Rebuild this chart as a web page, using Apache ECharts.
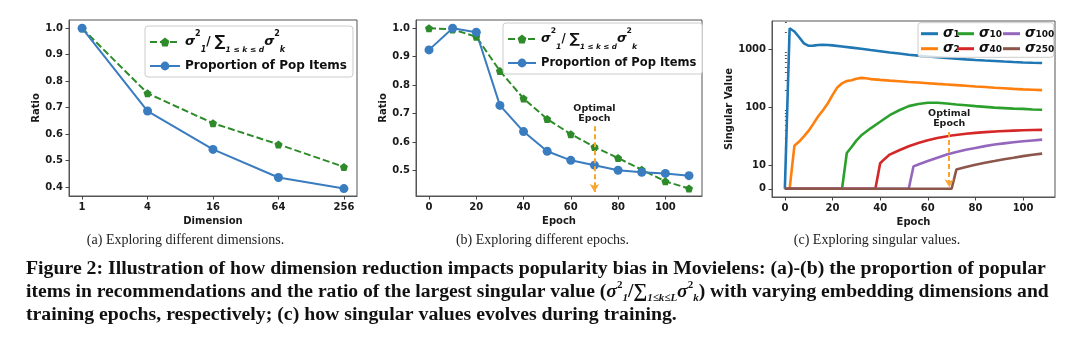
<!DOCTYPE html>
<html><head><meta charset="utf-8">
<script src="https://cdn.jsdelivr.net/npm/echarts@6/dist/echarts.min.js"></script>
<style>html,body{margin:0;padding:0;background:#fff}#c{width:1080px;height:344px}</style>
</head><body><div id="c"></div>
<script>
// ---------- (a) Exploring different dimensions ----------
const dimCategories = [1, 4, 16, 64, 256];
const dimSigmaRatio = [1.0, 0.754, 0.641, 0.561, 0.476];
const dimPopProportion = [1.0, 0.687, 0.542, 0.436, 0.394];
const ratioTicksA = [0.4, 0.5, 0.6, 0.7, 0.8, 0.9, 1.0];

// ---------- (b) Exploring different epochs ----------
const epochsB = [0, 10, 20, 30, 40, 50, 60, 70, 80, 90, 100, 110];
const epochSigmaRatio = [1.0, 0.996, 0.970, 0.850, 0.753, 0.681, 0.628, 0.583, 0.544, 0.503, 0.462, 0.437];
const epochPopProportion = [0.924, 1.0, 0.986, 0.729, 0.637, 0.568, 0.536, 0.519, 0.501, 0.494, 0.490, 0.482];
const ratioTicksB = [0.5, 0.6, 0.7, 0.8, 0.9, 1.0];
const epochTicks = [0, 20, 40, 60, 80, 100];
const optimalEpochB = 70;
const arrowRangeB = [0.656, 0.425];

// ---------- (c) Exploring singular values ----------
const sig1Epochs = [0,2,4,6,8,10,12,14,16,18,20,24,28,32,36,40,44,48,52,56,60,64,68,72,76,80,84,88,92,96,100,104,108];
const sig1Values = [0,2330,2050,1630,1280,1160,1170,1200,1210,1200,1180,1130,1080,1030,980,935,890,855,815,785,760,735,715,695,678,662,648,635,622,610,600,592,585];
const sig2Epochs = [0,2,4,6,8,10,12,14,16,18,20,22,24,26,28,30,32,34,36,40,44,48,52,56,60,64,68,72,76,80,84,88,92,96,100,104,108];
const sig2Values = [0,0,22,26,32,40,53,71,90,118,164,223,262,287,297,315,325,320,310,300,292,285,276,270,263,256,250,244,238,231,226,220,215,210,206,203,200];
const sig10Epochs = [0,24,26,28,30,32,36,40,44,48,52,56,60,64,68,72,76,80,84,88,92,96,100,104,108];
const sig10Values = [0,0,16.5,21,27,33,44,57,74,90,106,115,121,121,118,113,110,106,103,100,98,96,95,93,92];
const sig40Epochs = [0,38,40,42,44,48,52,56,60,64,70,76,80,84,90,96,100,104,108];
const sig40Values = [0,0,11,13.2,15.5,18.4,21.6,24.6,27.4,30,33,35.5,36.7,37.8,39.2,40.2,40.8,41.1,41.3];
const sig100Epochs = [0,52,54,56,60,64,68,72,76,80,84,88,92,96,100,104,108];
const sig100Values = [0,0,9.7,10.5,12,13.7,15.5,17.2,18.8,20.2,21.7,23.1,24.2,25.3,26.3,27.2,28.1];
const sig250Epochs = [0,70,72,76,80,84,88,92,96,100,104,108];
const sig250Values = [0,0,8.3,9.4,10.4,11.2,12,12.9,13.7,14.6,15.4,16.1];
const singularTicks = [0, 10, 100, 1000];
const singularMinorTicks = [20,30,40,50,60,70,80,90,200,300,400,500,600,700,800,900,2000,3000];
const optimalEpochC = 69;
const arrowRangeC = [38, 0.7];

// symmetric-log scale (linear below 10)
const LIN = 0.398;
function symlog(v) { return v <= 10 ? LIN * v / 10 : LIN + Math.log10(v / 10); }
function symexp(t) { return t <= LIN ? t / LIN * 10 : 10 * Math.pow(10, t - LIN); }

const GREEN = '#2e8b2a', BLUE = '#3a7cc0', ORANGE = '#f7a530';
const TAB = ['#1f77b4', '#ff7f0e', '#2ca02c', '#d62728', '#9467bd', '#8c564b'];
const FONT = 'DejaVu Sans';
const SERIF = 'Liberation Serif';
const PENTA = 'path://M0,-1L0.951,-0.309L0.588,0.809L-0.588,0.809L-0.951,-0.309Z';

const tickLabel = { fontFamily: FONT, fontWeight: 'bold', fontSize: 10, color: '#1a1a1a' };
const nameStyle = { fontFamily: FONT, fontWeight: 'bold', fontSize: 10, color: '#1a1a1a' };
const axisLineStyle = { show: true, onZero: false, lineStyle: { color: '#555', width: 1 } };

function axis(grid, min, max, ticks, name, fmt, gap) {
  return {
    gridIndex: grid, type: 'value', min: min, max: max, name: name, nameLocation: 'middle', nameGap: gap,
    nameTextStyle: nameStyle, axisLine: axisLineStyle,
    axisTick: { show: true, length: 3.5, customValues: ticks, lineStyle: { color: '#444' } },
    axisLabel: Object.assign({ customValues: ticks, margin: 6, formatter: fmt }, tickLabel),
    splitLine: { show: false }
  };
}

function makeLegendRich(k) {
  return {
    s: { fontFamily: FONT, fontSize: 13 * k, fontStyle: 'italic', fontWeight: 'bold', color: '#111', lineHeight: 24 },
    sp: { fontFamily: FONT, fontSize: 8 * k, fontWeight: 'bold', color: '#111', verticalAlign: 'top', lineHeight: 14 },
    sb: { fontFamily: FONT, fontSize: 8 * k, fontWeight: 'bold', fontStyle: 'italic', color: '#111', verticalAlign: 'bottom', lineHeight: 16 },
    t: { fontFamily: FONT, fontSize: 12 * k, fontWeight: 'bold', color: '#111', lineHeight: 24 },
    sum: { fontFamily: FONT, fontSize: 15 * k, fontWeight: 'bold', color: '#111', lineHeight: 24 },
    lim: { fontFamily: FONT, fontSize: 7.5 * k, fontWeight: 'bold', fontStyle: 'italic', color: '#111', verticalAlign: 'bottom', lineHeight: 8 }
  };
}
const sigmaRatioLabel = '{s|σ}{sp|2}{sb|1}{t|/ }{sum|∑}{lim|1 ≤ k ≤ d}{s|σ}{sp|2}{sb|k}';
function abLegend(left, top, names, k, iw) {
  return {
    orient: 'vertical', left: left, top: top, padding: [4, 6, 4, 4], itemGap: 5,
    itemWidth: iw, itemHeight: 11, selectedMode: false,
    backgroundColor: 'rgba(255,255,255,0.8)', borderColor: '#cccccc', borderWidth: 1, borderRadius: 3,
    data: names,
    formatter: function (n) { return n.indexOf('ratio') === 0 ? sigmaRatioLabel : 'Proportion of Pop Items'; },
    textStyle: { fontFamily: FONT, fontWeight: 'bold', fontSize: 12 * k, color: '#111', lineHeight: 14, rich: makeLegendRich(k) }
  };
}
const cRich = {
  s: { fontFamily: FONT, fontSize: 13.5, fontStyle: 'italic', fontWeight: 'bold', color: '#111', lineHeight: 10 },
  d: { fontFamily: FONT, fontSize: 9, fontWeight: 'bold', color: '#111', verticalAlign: 'bottom', lineHeight: 6 }
};
function cLegend(left, top, names, pad, box) {
  const l = {
    orient: 'vertical', left: left, top: top, padding: pad, itemGap: 1,
    icon: 'rect', itemWidth: 17, itemHeight: 3, selectedMode: false, data: names,
    formatter: function (n) { return '{s|σ}{d|' + n.slice(1) + '}'; },
    textStyle: { fontSize: 12, lineHeight: 10, rich: cRich }
  };
  if (box) { Object.assign(l, { backgroundColor: 'rgba(255,255,255,0.8)', borderColor: '#cccccc', borderWidth: 1, borderRadius: 3 }); }
  return l;
}

function arrowMark(epoch, range, yMap) {
  return {
    silent: true, symbol: ['none', 'arrow'], symbolSize: [7, 8], animation: false,
    lineStyle: { color: ORANGE, width: 2, type: [5, 3] },
    label: { show: true, position: 'start', distance: 3, formatter: 'Optimal\nEpoch', fontFamily: FONT, fontWeight: 'bold', fontSize: 9.5, lineHeight: 10, color: '#1a1a1a' },
    emphasis: { disabled: true },
    data: [[{ coord: [epoch, yMap(range[0])] }, { coord: [epoch, yMap(range[1])] }]]
  };
}

function cSeries(name, ep, vals, color, withMark) {
  const s = {
    type: 'line', name: name, xAxisIndex: 2, yAxisIndex: 2, symbol: 'none', z: 3,
    data: ep.map(function (e, i) { return [e, symlog(vals[i])]; }),
    lineStyle: { color: color, width: 2.6 }, itemStyle: { color: color }
  };
  if (withMark) s.markLine = arrowMark(optimalEpochC, arrowRangeC, symlog);
  return s;
}

const f1 = function (v) { return v.toFixed(1); };
const fi = function (v) { return String(Math.round(v)); };

const CAP = 19.8;
const CAP2 = 19.6;
const capRich = {
  n: { fontFamily: SERIF, fontWeight: 'bold', fontSize: CAP2, fill: '#111', lineHeight: 24 },
  i: { fontFamily: SERIF, fontWeight: 'bold', fontStyle: 'italic', fontSize: CAP2, fill: '#111', lineHeight: 24 },
  sp: { fontFamily: SERIF, fontWeight: 'bold', fontSize: 11, fill: '#111', verticalAlign: 'top', lineHeight: 14 },
  sb: { fontFamily: SERIF, fontWeight: 'bold', fontStyle: 'italic', fontSize: 11, fill: '#111', verticalAlign: 'bottom', lineHeight: 15 }
};
function capText(x, y, txt, bold, size, align) {
  return { type: 'text', x: x, y: y, style: { text: txt, fontFamily: SERIF, fontWeight: bold ? 'bold' : 'normal', fontSize: size, fill: bold ? '#111' : '#222', align: align, verticalAlign: 'middle', textAlign: align, textVerticalAlign: 'middle' } };
}

const option = {
  animation: false,
  backgroundColor: '#ffffff',
  grid: [
    { left: 69, top: 20, width: 288, height: 176, show: true, borderColor: '#555', borderWidth: 1, backgroundColor: 'transparent' },
    { left: 416, top: 20, width: 286, height: 176, show: true, borderColor: '#555', borderWidth: 1, backgroundColor: 'transparent' },
    { left: 772, top: 21, width: 283, height: 176, show: true, borderColor: '#555', borderWidth: 1, backgroundColor: 'transparent' }
  ],
  xAxis: [
    axis(0, -0.4, 8.4, dimCategories.map(Math.log2), 'Dimension', function (v) { return String(Math.round(Math.pow(2, v))); }, 17),
    axis(1, -5.5, 115.5, epochTicks, 'Epoch', fi, 17),
    axis(2, -5.4, 113.4, epochTicks, 'Epoch', fi, 17)
  ],
  yAxis: [
    axis(0, 0.366, 1.031, ratioTicksA, 'Ratio', f1, 28),
    axis(1, 0.4106, 1.029, ratioTicksB, 'Ratio', f1, 27),
    axis(2, -0.142, 2.89, singularTicks.map(symlog), 'Singular Value', function (t) { return String(Math.round(symexp(t))); }, 37),
    {
      gridIndex: 2, type: 'value', min: -0.142, max: 2.89, axisLine: { show: false }, axisLabel: { show: false }, splitLine: { show: false },
      axisTick: { show: true, length: 2, customValues: singularMinorTicks.map(symlog), lineStyle: { color: '#555' } }
    }
  ],
  legend: [
    abLegend(145, 26, ['ratioA', 'popA'], 1, 30),
    abLegend(503, 23, ['ratioB', 'popB'], 0.96, 28),
    cLegend(918, 22.7, ['σ1', 'σ2'], [4, 94, 1.6, 3], true),
    cLegend(957, 26.7, ['σ10', 'σ40'], 0, false),
    cLegend(1003, 26.7, ['σ100', 'σ250'], 0, false)
  ],
  series: [
    {
      type: 'line', name: 'ratioA', xAxisIndex: 0, yAxisIndex: 0, symbol: PENTA, symbolSize: 8,
      data: dimCategories.map(function (d, i) { return [Math.log2(d), dimSigmaRatio[i]]; }),
      lineStyle: { color: GREEN, width: 2, type: [7, 3] }, itemStyle: { color: GREEN }
    },
    {
      type: 'line', name: 'popA', xAxisIndex: 0, yAxisIndex: 0, symbol: 'circle', symbolSize: 9,
      data: dimCategories.map(function (d, i) { return [Math.log2(d), dimPopProportion[i]]; }),
      lineStyle: { color: BLUE, width: 2 }, itemStyle: { color: BLUE }
    },
    {
      type: 'line', name: 'ratioB', xAxisIndex: 1, yAxisIndex: 1, symbol: PENTA, symbolSize: 8,
      data: epochsB.map(function (e, i) { return [e, epochSigmaRatio[i]]; }),
      lineStyle: { color: GREEN, width: 2, type: [7, 3] }, itemStyle: { color: GREEN }
    },
    {
      type: 'line', name: 'popB', xAxisIndex: 1, yAxisIndex: 1, symbol: 'circle', symbolSize: 9,
      data: epochsB.map(function (e, i) { return [e, epochPopProportion[i]]; }),
      lineStyle: { color: BLUE, width: 2 }, itemStyle: { color: BLUE },
      markLine: arrowMark(optimalEpochB, arrowRangeB, function (v) { return v; })
    },
    cSeries('σ1', sig1Epochs, sig1Values, TAB[0]),
    cSeries('σ2', sig2Epochs, sig2Values, TAB[1]),
    cSeries('σ10', sig10Epochs, sig10Values, TAB[2]),
    cSeries('σ40', sig40Epochs, sig40Values, TAB[3]),
    cSeries('σ100', sig100Epochs, sig100Values, TAB[4]),
    cSeries('σ250', sig250Epochs, sig250Values, TAB[5], true)
  ],
  graphic: [
    capText(185.5, 240, '(a) Exploring different dimensions.', false, 14, 'center'),
    capText(542.5, 240, '(b) Exploring different epochs.', false, 14, 'center'),
    capText(877, 240, '(c) Exploring singular values.', false, 14, 'center'),
    capText(26, 269, 'Figure 2: Illustration of how dimension reduction impacts popularity bias in Movielens: (a)-(b) the proportion of popular', true, CAP, 'left'),
    { type: 'text', x: 26, y: 292, style: { text: '{n|items in recommendations and the ratio of the largest singular value (}{i|σ}{sp|2}{sb|1}{n|/∑}{sb|1≤k≤L}{i|σ}{sp|2}{sb|k}{n|) with varying embedding dimensions and}', rich: capRich, align: 'left', verticalAlign: 'middle', textAlign: 'left', textVerticalAlign: 'middle' } },
    capText(26, 315, 'training epochs, respectively; (c) how singular values evolves during training.', true, CAP, 'left')
  ]
};

const chart = echarts.init(document.getElementById('c'), null, { renderer: 'canvas' });
chart.setOption(option);
</script>
</body></html>
